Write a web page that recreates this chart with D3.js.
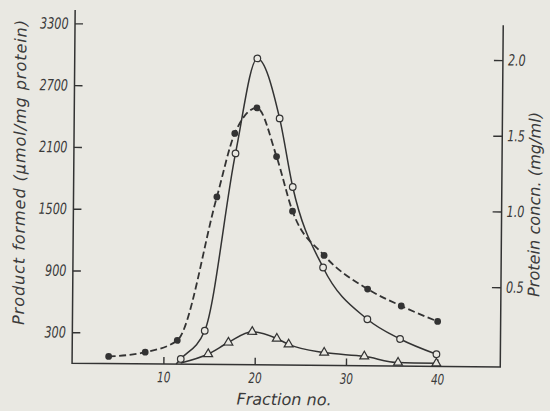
<!DOCTYPE html>
<html>
<head>
<meta charset="utf-8">
<script src="https://cdn.jsdelivr.net/npm/d3@7"></script>
<style>
  body { margin: 0; background: #e9e8e2; }
  svg { display: block; }
</style>
</head>
<body>
<svg width="550" height="411"></svg>
<script>
// tick values
var xTicks = [10, 20, 30, 40];
var leftTicks = [300, 900, 1500, 2100, 2700, 3300];
var rightTicks = [0.5, 1.0, 1.5, 2.0];

// filled circles, dashed line: protein concn. (mg/ml), right axis
var protFrac = [4, 8, 11.5, 15.7, 17.6, 20, 22.2, 24, 27.5, 32.3, 36, 40];
var protVal  = [0.02, 0.05, 0.13, 1.08, 1.50, 1.67, 1.35, 0.99, 0.70, 0.48, 0.37, 0.27];

// open circles: product formed, left axis (first entry is where the line starts, no marker)
var circFrac = [11.4, 11.9, 14.5, 17.7, 20, 22.5, 24, 27.4, 32.3, 35.9, 39.9];
var circVal  = [0, 50, 326, 2051, 2975, 2394, 1729, 950, 451, 262, 117];

// open triangles: product formed, left axis (first entry is the line start, no marker)
var triFrac = [11.9, 14.9, 17.1, 19.7, 22.4, 23.7, 27.6, 32, 35.7, 39.9];
var triVal  = [10, 100, 214, 320, 256, 201, 124, 91, 33, 29];

var ink = "#333", bg = "#e9e8e2";
var tickFont = "'DejaVu Sans Condensed', 'DejaVu Sans', sans-serif";
var titleFont = "'DejaVu Sans', sans-serif";

var svg = d3.select("svg");
// the scanned figure sits slightly askew
var g = svg.append("g").attr("transform", "rotate(0.5,286,200)");

var x = d3.scaleLinear().domain([0, 46.9]).range([73.5, 501.7]);
var yL = d3.scaleLinear().domain([0, 3430]).range([365, 11.8]);
var yR = d3.scaleLinear().domain([0, 2.23]).range([361, 23.4]);

// frame: left, bottom and right axis lines
g.append("path")
  .attr("d", "M" + x(0) + "," + yL(3430) + "V" + yL(0) + "H" + x(46.9) + "V" + yR(2.23))
  .attr("fill", "none")
  .attr("stroke", ink)
  .attr("stroke-width", 1.5);

// tick labels in the figure use a narrow face: squeeze the glyphs
function styleAxis(sel, size) {
  sel.select(".domain").remove();
  sel.selectAll(".tick line").attr("stroke", ink).attr("stroke-width", 1.4);
  sel.selectAll(".tick text")
    .attr("fill", "#3a3a3a")
    .style("font-family", tickFont)
    .style("font-style", "italic")
    .style("font-size", size + "px")
    .each(function() {
      var w = this.getComputedTextLength();
      d3.select(this).attr("textLength", w * 0.8).attr("lengthAdjust", "spacingAndGlyphs");
    });
}

g.append("g")
  .attr("transform", "translate(" + x(0) + ",0)")
  .call(d3.axisLeft(yL).tickValues(leftTicks).tickSize(-8).tickPadding(6.5)
    .tickFormat(d3.format("d")))
  .call(styleAxis, 15.5);

g.append("g")
  .attr("transform", "translate(" + x(46.9) + ",0)")
  .call(d3.axisRight(yR).tickValues(rightTicks).tickSize(-9).tickPadding(5)
    .tickFormat(d3.format(".1f")))
  .call(styleAxis, 15.5);

g.append("g")
  .attr("transform", "translate(0," + yL(0) + ")")
  .call(d3.axisBottom(x).tickValues(xTicks).tickSize(-7).tickPadding(8))
  .call(styleAxis, 14.5);

// curves
var line = d3.line().curve(d3.curveMonotoneX);

g.append("path")
  .attr("d", line(protFrac.map(function(f, i) { return [x(f), yR(protVal[i])]; })))
  .attr("fill", "none").attr("stroke", ink).attr("stroke-width", 1.8)
  .attr("stroke-dasharray", "7,3.5");

g.append("path")
  .attr("d", line(circFrac.map(function(f, i) { return [x(f), yL(circVal[i])]; })))
  .attr("fill", "none").attr("stroke", ink).attr("stroke-width", 1.5);

g.append("path")
  .attr("d", line(triFrac.map(function(f, i) { return [x(f), yL(triVal[i])]; })))
  .attr("fill", "none").attr("stroke", ink).attr("stroke-width", 1.5);

// markers
g.selectAll(".dotP").data(protFrac).enter().append("circle")
  .attr("cx", function(d) { return x(d); })
  .attr("cy", function(d, i) { return yR(protVal[i]); })
  .attr("r", 3.4).attr("fill", ink);

g.selectAll(".dotC").data(circFrac.slice(1)).enter().append("circle")
  .attr("cx", function(d) { return x(d); })
  .attr("cy", function(d, i) { return yL(circVal[i + 1]); })
  .attr("r", 3.3).attr("fill", bg).attr("stroke", ink).attr("stroke-width", 1.2);

var tri = d3.symbol().type(d3.symbolTriangle).size(34);
g.selectAll(".tri").data(triFrac.slice(1)).enter().append("path")
  .attr("d", tri)
  .attr("transform", function(d, i) {
    return "translate(" + x(d) + "," + yL(triVal[i + 1]) + ")";
  })
  .attr("fill", bg).attr("stroke", ink).attr("stroke-width", 1.2);

// titles
g.append("text")
  .attr("x", 285.8).attr("y", 405)
  .attr("text-anchor", "middle")
  .attr("fill", "#3a3a3a")
  .style("font-family", titleFont).style("font-style", "italic").style("font-size", "16px")
  .text("Fraction no.");

g.append("text")
  .attr("transform", "translate(25,174.8) rotate(-90)")
  .attr("text-anchor", "middle")
  .attr("textLength", 305).attr("lengthAdjust", "spacing")
  .attr("fill", "#3a3a3a")
  .style("font-family", titleFont).style("font-style", "italic").style("font-size", "16px")
  .text("Product formed (\u00b5mol/mg protein)");

g.append("text")
  .attr("transform", "translate(540,202.3) rotate(-90)")
  .attr("text-anchor", "middle")
  .attr("textLength", 185).attr("lengthAdjust", "spacing")
  .attr("fill", "#3a3a3a")
  .style("font-family", titleFont).style("font-style", "italic").style("font-size", "16px")
  .text("Protein concn. (mg/ml)");
</script>
</body>
</html>
